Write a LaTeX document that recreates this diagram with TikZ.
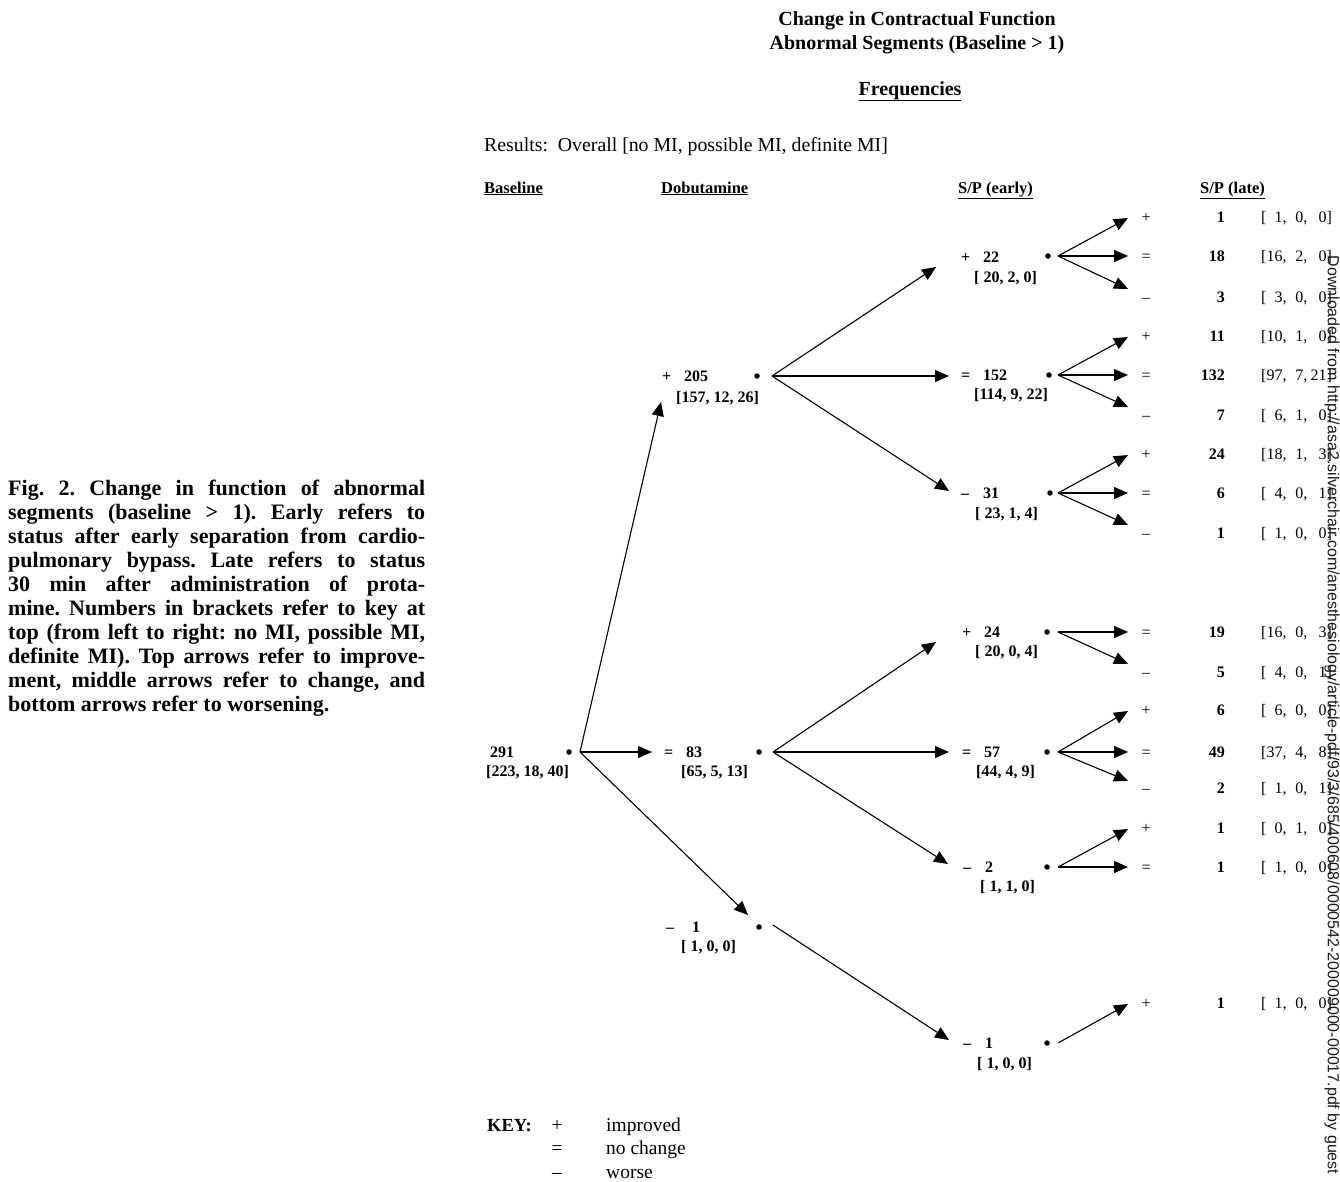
\documentclass[tikz,border=0pt]{standalone}
\usepackage{fontspec}
\setmainfont{Liberation Serif}
\newfontfamily\wmfont{Liberation Sans}
\usetikzlibrary{arrows.meta}
\newcommand\sg[1]{\makebox[22pt][l]{#1}}
\newcommand\lb[3]{[\makebox[1em][r]{#1},\makebox[1.05em][r]{#2},\makebox[1.2em][r]{#3}]}
\begin{document}
\begin{tikzpicture}[x=1pt,y=-1pt,
  lab/.style={inner sep=0pt, anchor=base west, font=\bfseries\fontsize{16}{16}\selectfont},
  late/.style={inner sep=0pt, font=\fontsize{16}{16}\selectfont},
  hdr/.style={inner sep=0pt, anchor=base west, font=\bfseries\fontsize{16.5}{16.5}\selectfont},
  ttl/.style={inner sep=0pt, anchor=base, font=\bfseries\fontsize{20}{20}\selectfont},
  keyt/.style={inner sep=0pt, font=\fontsize{19.5}{19.5}\selectfont},
  dot/.style={circle, fill=black, inner sep=0pt, minimum size=5.5pt},
  arr/.style={-{Triangle[length=14pt,width=12pt]}, line width=1.1pt}]
\useasboundingbox (0,0) rectangle (1340,1181);

% caption
\node[anchor=base west, inner sep=0pt, font=\bfseries\fontsize{22}{24}\selectfont] (cap) at (8,495)
 {\parbox[t]{417pt}{\frenchspacing Fig. 2. Change in function of abnormal\linebreak
 segments (baseline > 1). Early refers to\linebreak
 status after early separation from cardio-\linebreak
 pulmonary bypass. Late refers to status\linebreak
 30 min after administration of prota-\linebreak
 mine. Numbers in brackets refer to key at\linebreak
 top (from left to right: no MI, possible MI,\linebreak
 definite MI). Top arrows refer to improve-\linebreak
 ment, middle arrows refer to change, and\linebreak
 bottom arrows refer to worsening.}};

% titles
\node[ttl] (t1) at (917,25) {Change in Contractual Function};
\node[ttl] (t2) at (917,49) {Abnormal Segments (Baseline > 1)};
\node[ttl] (fq) at (910,95) {\underline{Frequencies}};
\node[inner sep=0pt, anchor=base west, font=\fontsize{19.8}{19.8}\selectfont] (res) at (484,151)
 {Results:\ \ Overall [no MI, possible MI, definite MI]};
\node[hdr] (h1) at (484,193) {\underline{Baseline}};
\node[hdr] (h2) at (661,193) {\underline{Dobutamine}};
\node[hdr] (h3) at (958,193) {\underline{S/P (early)}};
\node[hdr] (h4) at (1200,193) {\underline{S/P (late)}};

% baseline
\node[dot] (b) at (569,752) {};
\node[lab] (bT) at (490,757) {291};
\node[lab] (bB) at (486,776) {[223, 18, 40]};

% dobutamine
\node[dot] (d1) at (757,376) {};
\node[lab] (d1T) at (662,381) {\sg{+}205};
\node[lab] (d1B) at (676,402) {[157, 12, 26]};
\node[dot] (d2) at (759,752) {};
\node[lab] (d2T) at (664,757) {\sg{=}83};
\node[lab] (d2B) at (681,776) {[65, 5, 13]};
\node[dot] (d3) at (759,927) {};
\node[lab] (d3T) at (666,932) {\makebox[26pt][l]{–}1};
\node[lab] (d3B) at (681,951) {[\ 1, 0, 0]};

% S/P early
\node[dot] (e1) at (1048,256) {};
\node[lab] (e1T) at (961,262) {\sg{+}22};
\node[lab] (e1B) at (974,282) {[\ 20, 2, 0]};
\node[dot] (e2) at (1049,375) {};
\node[lab] (e2T) at (961,380) {\sg{=}152};
\node[lab] (e2B) at (974,399) {[114, 9, 22]};
\node[dot] (e3) at (1050,493) {};
\node[lab] (e3T) at (961,498) {\sg{–}31};
\node[lab] (e3B) at (975,518) {[\ 23, 1, 4]};
\node[dot] (e4) at (1047,632) {};
\node[lab] (e4T) at (962,637) {\sg{+}24};
\node[lab] (e4B) at (975,656) {[\ 20, 0, 4]};
\node[dot] (e5) at (1047,752) {};
\node[lab] (e5T) at (962,757) {\sg{=}57};
\node[lab] (e5B) at (976,776) {[44, 4, 9]};
\node[dot] (e6) at (1047,867) {};
\node[lab] (e6T) at (963,872) {\sg{–}2};
\node[lab] (e6B) at (980,891) {[\ 1, 1, 0]};
\node[dot] (e7) at (1047,1043) {};
\node[lab] (e7T) at (963,1048) {\sg{–}1};
\node[lab] (e7B) at (977,1068) {[\ 1, 0, 0]};

% S/P late
\foreach \i/\y/\s/\n/\a/\b/\c in {
  1/217/+/1/1/0/0, 2/256/=/18/16/2/0, 3/297/–/3/3/0/0,
  4/336/+/11/10/1/0, 5/375/=/132/97/7/21, 6/415/–/7/6/1/0,
  7/454/+/24/18/1/3, 8/493/=/6/4/0/1, 9/533/–/1/1/0/0,
  10/632/=/19/16/0/3, 11/672/–/5/4/0/1,
  12/710/+/6/6/0/0, 13/752/=/49/37/4/8, 14/788/–/2/1/0/1,
  15/828/+/1/0/1/0, 16/867/=/1/1/0/0,
  17/1003/+/1/1/0/0}{
  \node[late, anchor=base] (s\i) at (1146,\y+5) {\s};
  \node[lab, anchor=base east] (n\i) at (1225,\y+5) {\n};
  \node[late, anchor=base west] (k\i) at (1261,\y+5) {\lb{\a}{\b}{\c}};
}

% fan origins and tips
\coordinate (bO) at (580,752);
\coordinate (bU) at (661,402);
\coordinate (bM) at (652,752);
\coordinate (bD) at (748,915);
\draw[arr] (bO) -- (bU);
\draw[arr] (bO) -- (bM);
\draw[arr] (bO) -- (bD);

\coordinate (d1O) at (772,376);
\coordinate (d1U) at (936,267);
\coordinate (d1M) at (949,376);
\coordinate (d1D) at (949,491);
\draw[arr] (d1O) -- (d1U);
\draw[arr] (d1O) -- (d1M);
\draw[arr] (d1O) -- (d1D);

\coordinate (d2O) at (773,752);
\coordinate (d2U) at (936,642);
\coordinate (d2M) at (949,752);
\coordinate (d2D) at (948,864);
\draw[arr] (d2O) -- (d2U);
\draw[arr] (d2O) -- (d2M);
\draw[arr] (d2O) -- (d2D);

\coordinate (d3O) at (773,925);
\coordinate (d3D) at (949,1040);
\draw[arr] (d3O) -- (d3D);

\foreach \e/\y/\u/\m/\d in {e1/256/218/256/289, e2/375/337/375/407, e3/493/455/493/525, e5/752/711/752/781}{
  \coordinate (\e O) at (1058,\y);
  \coordinate (\e U) at (1128,\u);
  \coordinate (\e M) at (1128,\m);
  \coordinate (\e D) at (1128,\d);
  \draw[arr] (\e O) -- (\e U);
  \draw[arr] (\e O) -- (\e M);
  \draw[arr] (\e O) -- (\e D);
}
\coordinate (e4O) at (1058,632);
\coordinate (e4M) at (1128,632);
\coordinate (e4D) at (1128,664);
\draw[arr] (e4O) -- (e4M);
\draw[arr] (e4O) -- (e4D);
\coordinate (e6O) at (1058,867);
\coordinate (e6U) at (1128,829);
\coordinate (e6M) at (1128,867);
\draw[arr] (e6O) -- (e6U);
\draw[arr] (e6O) -- (e6M);
\coordinate (e7O) at (1058,1043);
\coordinate (e7U) at (1128,1004);
\draw[arr] (e7O) -- (e7U);

% key
\node[inner sep=0pt, anchor=base west, font=\bfseries\fontsize{18.5}{18.5}\selectfont] (key) at (487,1131) {KEY:};
\node[keyt, anchor=base] (ks1) at (557,1131) {+};
\node[keyt, anchor=base] (ks2) at (557,1154) {=};
\node[keyt, anchor=base] (ks3) at (557,1178) {–};
\node[keyt, anchor=base west] (kt1) at (606,1131) {improved};
\node[keyt, anchor=base west] (kt2) at (606,1154) {no change};
\node[keyt, anchor=base west] (kt3) at (606,1178) {worse};

% watermark
\node[rotate=-90, inner sep=0pt, text=black!90, font=\wmfont\fontsize{16}{16}\selectfont] (wm) at (1332,715)
 {Downloaded from http://asa2.silverchair.com/anesthesiology/article-pdf/93/3/685/400608/0000542-200009000-00017.pdf by guest};
\end{tikzpicture}
\end{document}
